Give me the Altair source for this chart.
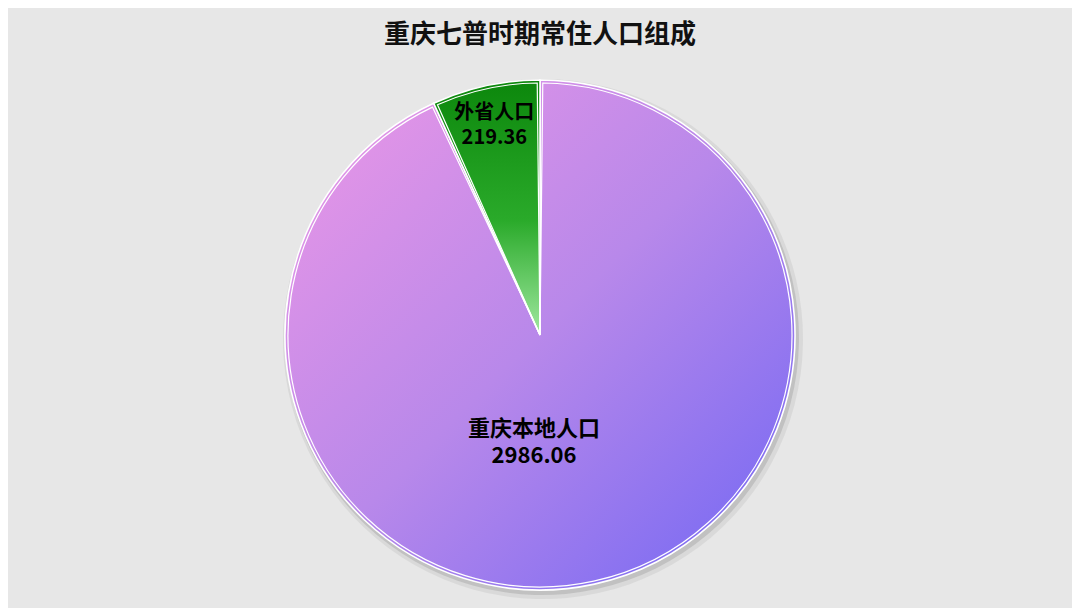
import altair as alt
import pandas as pd

categories = ["重庆本地人口", "外省人口"]
values = [2986.06, 219.36]
order = [1, 2]
title_text = "重庆七普时期常住人口组成"

df = pd.DataFrame({"name": categories, "value": values, "order": order})

W, H = 1064, 600
CX, CY, R = 532, 327, 255

base = alt.Chart(df).transform_joinaggregate(
    total="sum(value)"
).transform_window(
    cum="sum(value)", sort=[alt.SortField("order")], frame=[None, 0]
).transform_calculate(
    end="datum.cum / datum.total * 2 * PI",
    start="(datum.cum - datum.value) / datum.total * 2 * PI",
    mid="(datum.cum - datum.value / 2) / datum.total * 2 * PI",
    vlabel="format(datum.value, '.2f')",
)

def arc_enc(r, cx=CX, cy=CY):
    return dict(
        theta=alt.Theta("start:Q", scale=None),
        theta2="end:Q",
        radius=alt.value(r),
        x=alt.value(cx),
        y=alt.value(cy),
    )

shadow1 = base.mark_arc(fill="#9a9a9a", fillOpacity=0.18).encode(**arc_enc(R + 5, CX + 3, CY + 4))
shadow2 = base.mark_arc(fill="#8a8a8a", fillOpacity=0.3).encode(**arc_enc(R + 2, CX + 2, CY + 3))

big_grad = alt.LinearGradient(
    gradient="linear", x1=0, y1=0, x2=1, y2=1,
    stops=[alt.GradientStop(color="#ee98e6", offset=0),
           alt.GradientStop(color="#b888ea", offset=0.5),
           alt.GradientStop(color="#7066f4", offset=1)],
)
green_grad = alt.LinearGradient(
    gradient="linear", x1=0, y1=0, x2=0, y2=1,
    stops=[alt.GradientStop(color="#0c870c", offset=0),
           alt.GradientStop(color="#2aaa2a", offset=0.55),
           alt.GradientStop(color="#a0e8a0", offset=1)],
)

big = base.transform_filter("datum.order == 1").mark_arc(
    fill=big_grad, stroke="white", strokeWidth=1.6
).encode(**arc_enc(R))
small = base.transform_filter("datum.order == 2").mark_arc(
    fill=green_grad, stroke="white", strokeWidth=1.6
).encode(**arc_enc(R))
inner_line = base.mark_arc(
    fillOpacity=0, stroke="white", strokeWidth=1.2, padAngle=0.022
).encode(**arc_enc(R - 3))

def label(order_val, field, size, radius, dx, dy):
    return base.transform_filter(f"datum.order == {order_val}").mark_text(
        font="Noto Sans CJK SC", fontSize=size, fontWeight="bold", color="black",
        dx=dx, dy=dy
    ).encode(
        theta=alt.Theta("mid:Q", scale=None), radius=alt.value(radius),
        x=alt.value(CX), y=alt.value(CY), text=f"{field}:N",
    )

labels = [
    label(1, "name", 22, 94, -26, 2),
    label(1, "vlabel", 22, 94, -26, 29),
    label(2, "name", 20, 228, 3, 1),
    label(2, "vlabel", 20, 228, 3, 26),
]

title = alt.Chart(pd.DataFrame({"t": [title_text]})).mark_text(
    font="Noto Sans CJK SC", fontSize=26, fontWeight="bold", color="#111111"
).encode(text="t:N", x=alt.value(W / 2), y=alt.value(27))

chart = alt.layer(
    shadow1, shadow2, big, small, inner_line, *labels, title
).properties(
    width=W, height=H, background="#e7e7e7", padding=0,
    autosize=alt.AutoSizeParams(type="none"),
).configure_view(stroke=None)

chart.save("out.html", embed_options={"renderer": "svg", "actions": False})
